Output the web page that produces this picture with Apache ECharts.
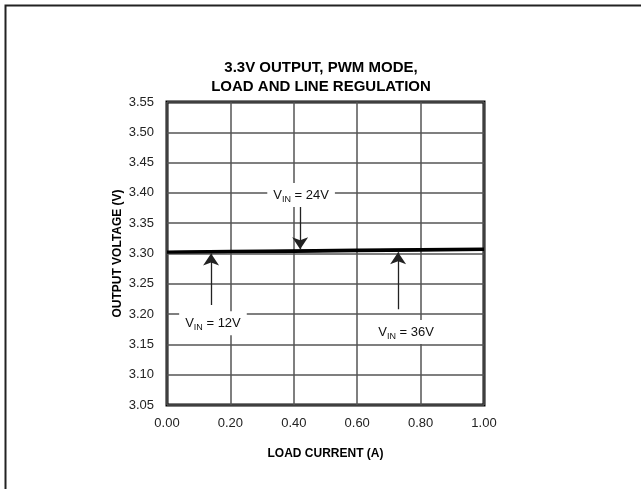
<!DOCTYPE html>
<html>
<head>
<meta charset="utf-8">
<script src="https://cdn.jsdelivr.net/npm/echarts@6/dist/echarts.min.js"></script>
<style>
html,body{margin:0;padding:0;background:#fff;}
#c{width:641px;height:489px;}
</style>
</head>
<body>
<div id="c"></div>
<script>
// ---- data ----
var loadCurrent = [0, 0.2, 0.4, 0.6, 0.8, 1.0];
var vout12 = [3.302, 3.3025, 3.303, 3.304, 3.305, 3.306];
var vout24 = [3.302, 3.303, 3.304, 3.305, 3.306, 3.307];
var vout36 = [3.303, 3.304, 3.305, 3.306, 3.307, 3.308];
var xTicks = [0, 0.2, 0.4, 0.6, 0.8, 1.0];
var yTicks = [3.05, 3.10, 3.15, 3.20, 3.25, 3.30, 3.35, 3.40, 3.45, 3.50, 3.55];
var titleLines = ['3.3V OUTPUT, PWM MODE,', 'LOAD AND LINE REGULATION'];
var labelNames = ['12V', '24V', '36V'];
// annotation anchors in data units [x, y]
var labelAnchors = [[0.145, 3.185], [0.423, 3.3965], [0.754, 3.1705]];
// arrows [[x1,y1],[x2,y2]] in data units (tail -> head)
var arrows = [
  [[0.139, 3.215], [0.139, 3.300]],
  [[0.420, 3.377], [0.420, 3.307]],
  [[0.729, 3.208], [0.729, 3.302]]
];

function pairs(xs, ys) { return xs.map(function (x, i) { return [x, ys[i]]; }); }

var chart = echarts.init(document.getElementById('c'), null, {renderer: 'canvas'});
var fontFam = '"Liberation Sans", Arial, sans-serif';
var lineSeries = [vout12, vout24, vout36].map(function (d) {
  return {
    type: 'line', data: pairs(loadCurrent, d), symbol: 'none', silent: true,
    lineStyle: {color: '#000', width: 2.5}, z: 5
  };
});

var option = {
  animation: false,
  backgroundColor: '#fff',
  title: {
    text: titleLines.join('\n'),
    left: 316, top: 53, textAlign: 'center',
    textStyle: {fontFamily: fontFam, fontWeight: 'bold', fontSize: 15, lineHeight: 19, color: '#000'}
  },
  grid: {left: 167, right: 157, top: 102, bottom: 84, show: true, borderColor: '#000', borderWidth: 3},
  xAxis: {
    type: 'value', min: 0, max: 1, interval: 0.2,
    name: 'LOAD CURRENT (A)', nameLocation: 'middle', nameGap: 43,
    nameTextStyle: {fontFamily: fontFam, fontWeight: 'bold', fontSize: 12, color: '#000'},
    axisLine: {show: false}, axisTick: {show: false},
    axisLabel: {fontFamily: fontFam, fontSize: 13, color: '#222', margin: 12,
      formatter: function (v) { return v.toFixed(2); }},
    splitLine: {show: true, lineStyle: {color: '#555', width: 1.5}}
  },
  yAxis: {
    type: 'value', min: 3.05, max: 3.55, interval: 0.05,
    name: 'OUTPUT VOLTAGE (V)', nameLocation: 'middle', nameGap: 43,
    nameTextStyle: {fontFamily: fontFam, fontWeight: 'bold', fontSize: 12, color: '#000'},
    axisLine: {show: false}, axisTick: {show: false},
    axisLabel: {fontFamily: fontFam, fontSize: 13, color: '#222', margin: 13,
      formatter: function (v) { return v.toFixed(2); }},
    splitLine: {show: true, lineStyle: {color: '#555', width: 1.5}}
  },
  series: lineSeries.concat([{
    type: 'lines', coordinateSystem: 'cartesian2d', silent: true, z: 6,
    symbol: ['none', 'arrow'], symbolSize: [7, 12],
    lineStyle: {color: '#222', width: 1.3, opacity: 1},
    data: arrows.map(function (a) { return {coords: a}; })
  }])
};
chart.setOption(option);

// annotation labels (positioned via the axes)
var gfx = [{
  type: 'rect', left: 3, top: 3, silent: true,
  shape: {x: 0, y: 0, width: 800, height: 700},
  style: {fill: null, stroke: '#222', lineWidth: 2}, z: 100
}];
labelAnchors.forEach(function (p, i) {
  var px = chart.convertToPixel({gridIndex: 0}, p);
  gfx.push({
    type: 'text', x: px[0], y: px[1], z: 50,
    style: {
      text: 'V{sub|IN} = ' + labelNames[i],
      fontFamily: fontFam, fontSize: 13, fill: '#111',
      align: 'center', verticalAlign: 'middle',
      backgroundColor: '#fff', padding: [3, 6],
      rich: {sub: {fontSize: 9, fontFamily: fontFam, fill: '#111', padding: [9, 0, 0, 0]}}
    }
  });
});
chart.setOption({graphic: gfx});
</script>
</body>
</html>
